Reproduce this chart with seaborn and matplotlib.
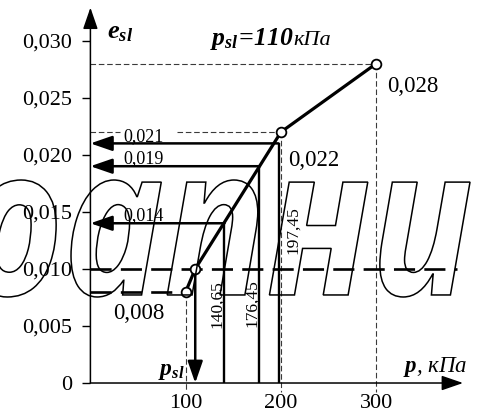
import matplotlib
matplotlib.use("Agg")
import matplotlib.pyplot as plt
import pandas as pd
import seaborn as sns
from matplotlib.textpath import TextPath
from matplotlib.patches import PathPatch
from matplotlib.font_manager import FontProperties
from matplotlib.transforms import Affine2D, IdentityTransform

# Relative subsidence curve e_sl(p)
p_kpa = [100, 110, 200, 300]
e_sl = [0.008, 0.010, 0.022, 0.028]

# Initial subsidence pressure and the threshold strain
p_sl = 110
e_threshold = 0.010

# Read-off levels
e_read = [0.014, 0.019, 0.021]
p_read = [140.65, 176.45, 197.45]
e_read_labels = ["0,014", "0,019", "0,021"]
p_read_labels = ["140,65", "176,45", "197,45"]

y_ticks = [0, 0.005, 0.010, 0.015, 0.020, 0.025, 0.030]
y_tick_labels = ["0", "0,005", "0,010", "0,015", "0,020", "0,025", "0,030"]
x_ticks = [100, 200, 300]
x_tick_labels = ["100", "200", "300"]

sns.set_theme(style="white")
plt.rcParams.update({
    "font.family": ["Liberation Serif", "DejaVu Serif"],
    "mathtext.fontset": "custom",
    "mathtext.rm": "Liberation Serif",
    "mathtext.it": "Liberation Serif:italic",
    "mathtext.bf": "Liberation Serif:italic:bold",
    "text.color": "black",
    "axes.labelcolor": "black",
    "xtick.color": "black",
    "ytick.color": "black",
})

fig = plt.figure(figsize=(4.85, 4.16), dpi=100)
ax = fig.add_axes([0.1864, 0.0793, 0.7683, 0.9024])
ax.set_xlim(0, 391)
ax.set_ylim(0, 0.0329)
for s in ax.spines.values():
    s.set_visible(False)

# axes drawn as arrows
axis_arrow = dict(arrowstyle="-|>,head_length=1.1,head_width=0.38", color="black",
                  lw=1.1, mutation_scale=12, shrinkA=0, shrinkB=0)
ax.annotate("", xy=(0, 1), xytext=(0, 0), xycoords="axes fraction",
            arrowprops=axis_arrow, annotation_clip=False)
ax.annotate("", xy=(1, 0), xytext=(0, 0), xycoords="axes fraction",
            arrowprops=axis_arrow, annotation_clip=False)

ax.set_yticks(y_ticks, y_tick_labels)
ax.set_xticks(x_ticks, x_tick_labels)
ax.tick_params(axis="y", direction="out", length=6, width=1, color="black",
               labelsize=16, pad=7, left=True, labelcolor="black")
ax.tick_params(axis="x", length=0, labelsize=16, pad=8, labelcolor="black")
ax.grid(False)

# thin guide lines
thin = dict(color="#3a3a3a", lw=0.8, dashes=(5, 2.5), clip_on=False)
below = -0.0008
ax.plot([p_kpa[0]] * 2, [e_sl[0], below], **thin)
ax.plot([p_kpa[2]] * 2, [e_sl[2], below], **thin)
ax.plot([p_kpa[3]] * 2, [e_sl[3], below], **thin)
ax.plot([0, p_kpa[3]], [e_sl[3]] * 2, **thin)
ax.plot([0, 31], [e_sl[2]] * 2, **thin)
ax.plot([91, p_kpa[2]], [e_sl[2]] * 2, **thin)

# heavy dashed levels
thick = dict(color="black", lw=1.9, dashes=(8, 3.5))
ax.plot([0, 385], [e_threshold] * 2, **thick)
ax.plot([0, p_kpa[0]], [e_sl[0]] * 2, **thick)

# read-off verticals and arrows to the e axis
read_arrow = dict(arrowstyle="-|>,head_length=1.1,head_width=0.38", color="black",
                  lw=1.8, mutation_scale=12, shrinkA=0, shrinkB=0)
for pr, er in zip(p_read, e_read):
    ax.plot([pr, pr], [0, er], color="black", lw=1.7, solid_capstyle="butt")
    ax.annotate("", xy=(0, er), xytext=(pr, er), arrowprops=read_arrow)

# p_sl arrow down to the p axis
ax.annotate("", xy=(p_sl, 0), xytext=(p_sl, e_threshold), arrowprops=read_arrow)

# the curve
df = pd.DataFrame({"p": p_kpa, "e": e_sl})
sns.lineplot(data=df, x="p", y="e", ax=ax, color="black", lw=2.3, marker="o",
             markersize=7, markerfacecolor="white", markeredgecolor="black",
             markeredgewidth=1.3, zorder=6)
ax.set_xlabel("")
ax.set_ylabel("")

# value labels
big = 16.5
ax.text(50.5, 0.00561, "0,008", fontsize=big, ha="center", va="baseline")
ax.text(207.7, 0.01905, "0,022", fontsize=big, ha="left", va="baseline")
ax.text(311, 0.0255, "0,028", fontsize=big, ha="left", va="baseline")

small = 13
read_label_y = [0.01429, 0.01926, 0.02124]
for lab, ly in zip(e_read_labels, read_label_y):
    ax.text(56, ly, lab, fontsize=small, ha="center", va="baseline")

rot_pos = [(132.8, 0.00692), (169.3, 0.00701), (212.3, 0.01341)]
for lab, (lx, ly) in zip(p_read_labels, rot_pos):
    ax.text(lx, ly, lab, fontsize=12.5, rotation=90, ha="center", va="center")

# axis names and headline
ax.text(17.4, 0.03024, r"$\mathbf{e_{sl}}$", fontsize=19, ha="left", va="baseline")
t1 = ax.text(125.5, 0.02962, r"$\mathbf{p_{sl}\!=\!110}$", fontsize=18.5,
             ha="left", va="baseline")
ax.annotate("кПа", xy=(1, 0.02962), xycoords=(t1, "data"), fontsize=16,
            style="italic", ha="left", va="baseline", annotation_clip=False)
ax.text(328, 0.00096, r"$\mathbf{p}$, кПа", fontsize=16.5, style="italic",
        ha="left", va="baseline")
ax.text(70.9, 0.0007, r"$\mathbf{p_{sl}}$", fontsize=17, ha="left", va="baseline")

# outlined lettering across the middle of the figure
fp = FontProperties(family="Open Sans", weight="bold", style="italic")
tp = TextPath((0, 0), "оапни", size=100, prop=fp)
ext = tp.get_extents()
x0, x1 = -28, 470
y0, y1 = 416 - 297, 416 - 180
tr = (Affine2D().translate(-ext.x0, -ext.y0)
      .scale((x1 - x0) / ext.width, (y1 - y0) / ext.height)
      .translate(x0, y0))
fig.add_artist(PathPatch(tr.transform_path(tp), facecolor="none", edgecolor="black",
                         lw=1.1, transform=IdentityTransform(), zorder=10))

fig.savefig("out.png", dpi=100)
